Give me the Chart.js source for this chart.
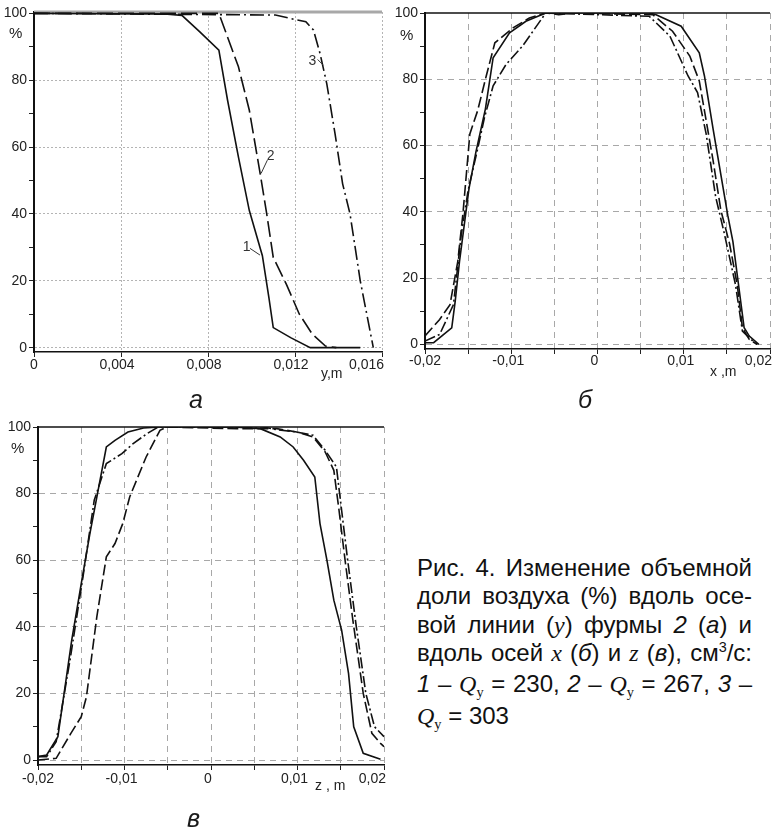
<!DOCTYPE html>
<html lang="ru">
<head>
<meta charset="utf-8">
<title>Рис. 4</title>
<script src="https://cdn.jsdelivr.net/npm/chart.js@4.4.0/dist/chart.umd.min.js"></script>
<style>
html, body { margin: 0; padding: 0; background: #fff; overflow: hidden; }
#page { position: relative; width: 773px; height: 830px; overflow: hidden; font-family: "Liberation Sans", Arial, sans-serif; color: #1a1a1a; }
canvas { position: absolute; }
.lbl { position: absolute; font-size: 14px; line-height: 16px; white-space: nowrap; color: #222; }
.pct { font-size: 15px; }
.panel { position: absolute; font-size: 25px; font-style: italic; line-height: 29px; }
#caption { position: absolute; left: 417px; top: 554px; width: 335px; font-size: 24px; line-height: 28.35px; color: #111; }
#caption div { text-align: justify; text-align-last: justify; }
#caption div.last { text-align-last: left; }
.m { font-family: "Liberation Serif", "DejaVu Serif", serif; font-style: italic; }
.sub { font-family: "Liberation Serif", "DejaVu Serif", serif; font-size: 0.6em; position: relative; top: 0.35em; }
.sup { font-size: 0.6em; position: relative; top: -0.6em; }
</style>
</head>
<body>
<div id="page">
  <canvas id="chartA" width="402" height="390" style="left:0;top:0"></canvas>
  <canvas id="chartB" width="400" height="390" style="left:388px;top:0"></canvas>
  <canvas id="chartC" width="402" height="390" style="left:0;top:400px"></canvas>

  <div class="lbl pct" style="left:9px;top:25px">%</div>
  <div class="lbl pct" style="left:400px;top:27px">%</div>
  <div class="lbl pct" style="left:11px;top:440px">%</div>

  <div class="lbl" style="left:321px;top:365px">y,m</div>
  <div class="lbl" style="left:710px;top:363px">x ,m</div>
  <div class="lbl" style="left:315px;top:777px">z , m</div>

  <div class="panel" style="left:189px;top:385px">а</div>
  <div class="panel" style="left:578px;top:385px">б</div>
  <div class="panel" style="left:187px;top:804px">в</div>

  <div id="caption">
    <div>Рис. 4. Изменение объемной</div>
    <div>доли воздуха (%) вдоль осе-</div>
    <div>вой линии (<span class="m">y</span>) фурмы <i>2</i> (<i>а</i>) и</div>
    <div>вдоль осей <span class="m">x</span> (<i>б</i>) и <span class="m">z</span> (<i>в</i>), см<span class="sup">3</span>/с:</div>
    <div><i>1</i> – <span class="m">Q</span><span class="sub">у</span> = 230, <i>2</i> – <span class="m">Q</span><span class="sub">у</span> = 267, <i>3</i> –</div>
    <div class="last"><span class="m">Q</span><span class="sub">у</span> = 303</div>
  </div>
</div>

<script>
// axis ticks
const yTicks = [0, 10, 20, 30, 40, 50, 60, 70, 80, 90, 100]
const yTickLabels = ["0", "", "20", "", "40", "", "60", "", "80", "", "100"]
const aXTicks = [0, 0.004, 0.008, 0.012, 0.016]
const aXLabels = ["0", "0,004", "0,008", "0,012", "0,016"]
const bXTicks = [-0.02, -0.015, -0.01, -0.005, 0, 0.005, 0.01, 0.015, 0.02]
const bXLabels = ["-0,02", "", "-0,01", "", "0", "", "0,01", "", "0,02"]

// panel a: along the axial line y, m
const a1X = [0, 0.006, 0.0068, 0.0076, 0.0085, 0.0089, 0.0094, 0.0099, 0.0105, 0.0108, 0.011, 0.0118, 0.0127, 0.015]
const a1Y = [100, 99.8, 99.4, 94.6, 89, 74, 57, 41, 27.5, 15, 6, 3, 0, 0]
const a2X = [0, 0.0085, 0.0094, 0.0099, 0.0104, 0.0107, 0.011, 0.0116, 0.0122, 0.0128, 0.0134, 0.0139]
const a2Y = [100, 100, 84, 71, 52, 40, 27, 19, 10, 4, 0.5, 0]
const a3X = [0, 0.0111, 0.0121, 0.0125, 0.01285, 0.01315, 0.01346, 0.01384, 0.01419, 0.01453, 0.015, 0.0156]
const a3Y = [100, 99.5, 98, 97.5, 95, 88, 79, 64, 49, 40, 20, 0]

// panel б: along x, m
const b1X = [-0.02, -0.019, -0.0169, -0.0165, -0.016, -0.0149, -0.0141, -0.013, -0.0121, -0.0102, -0.0083, -0.006, 0.006, 0.0068, 0.0097, 0.0118, 0.0124, 0.0134, 0.0151, 0.0157, 0.017, 0.0176, 0.0187]
const b1Y = [0.5, 0.5, 5, 13, 25, 47, 58, 71, 86.5, 94, 97.5, 100, 100, 99.5, 96, 88, 81, 65, 39, 31, 5, 2.5, 0]
const b2X = [-0.02, -0.0183, -0.0171, -0.0162, -0.0156, -0.0148, -0.0139, -0.0129, -0.0119, -0.0098, -0.0079, -0.006, -0.0045, -0.003, 0.0064, 0.0087, 0.0107, 0.0118, 0.0126, 0.0134, 0.0143, 0.0153, 0.0162, 0.0168, 0.0176, 0.0185]
const b2Y = [2.5, 7.5, 12, 25, 39.5, 63.5, 70.5, 81, 91, 95.5, 98.5, 100, 99.5, 100, 99.5, 94.5, 87, 79.5, 67.5, 55.5, 40.5, 30.5, 18, 5, 1.5, 0]
const b3X = [-0.02, -0.0183, -0.0167, -0.0158, -0.015, -0.01385, -0.0131, -0.0121, -0.0106, -0.0087, -0.006, 0.006, 0.0084, 0.0105, 0.0116, 0.0126, 0.0137, 0.0147, 0.016, 0.0168, 0.018, 0.0185]
const b3Y = [1, 3, 12, 33, 46.5, 59.5, 68.5, 78, 84.5, 90, 100, 99, 93, 81, 76, 63.5, 44.5, 33.5, 18, 4, 1, 0]

// panel в: along z, m
const c1X = [-0.02, -0.019, -0.0177, -0.0161, -0.015, -0.014, -0.0121, -0.0111, -0.0096, -0.0078, -0.0059, 0.0026, 0.0057, 0.008, 0.0095, 0.0107, 0.012, 0.0126, 0.0134, 0.0142, 0.0151, 0.0159, 0.0165, 0.0176, 0.0196]
const c1Y = [1, 1.5, 7, 36, 53, 68, 94, 96, 98.5, 99.7, 100, 100, 99.5, 97, 94, 90, 85, 71, 60, 48, 39, 26, 10, 2, 0.2]
const c2X = [-0.02, -0.0179, -0.0162, -0.015, -0.0144, -0.0132, -0.0121, -0.0111, -0.0102, -0.0094, -0.0075, -0.0059, -0.0051, 0.003, 0.0076, 0.0099, 0.0118, 0.0132, 0.0142, 0.0148, 0.0155, 0.0164, 0.0176, 0.0186, 0.0196, 0.02]
const c2Y = [0, 0.5, 8, 13, 19, 43, 61, 65, 71, 79, 91, 99, 100, 99.5, 99.5, 98.5, 97, 92.5, 87, 75, 60, 42, 20, 8, 5, 4]
const c3X = [-0.02, -0.019, -0.0179, -0.0163, -0.0148, -0.0135, -0.0121, -0.0103, -0.009, -0.0074, -0.0061, 0.006, 0.0076, 0.0099, 0.0118, 0.0132, 0.0145, 0.0151, 0.0158, 0.0168, 0.0179, 0.0189, 0.02]
const c3Y = [1, 1, 5.5, 30, 55, 78, 89, 92, 95, 98, 100, 100, 99.2, 98.5, 97.5, 93, 88, 75, 60, 40, 20, 10, 7]

// curve numbers on panel a (data coordinates)
const aNotes = [
    { text: "1", x: 0.00978, y: 30.2, from: [0.00993, 29.7], to: [0.01039, 27.7] },
    { text: "2", x: 0.01088, y: 57.4, from: [0.01073, 56.1], to: [0.01044, 52.1] },
    { text: "3", x: 0.0128, y: 85.7, from: [0.01304, 86.2], to: [0.0133, 84.5] },
]

const tickFont = { family: "'Liberation Sans', Arial, sans-serif", size: 14 }

function points(xs, ys) {
    return xs.map((x, i) => ({ x: x, y: ys[i] }))
}

// x labels drawn under the axis, last one kept inside the frame
const xLabelPlugin = {
    id: "xLabels",
    afterDraw(chart, args, opts) {
        const scale = chart.scales.x
        const ctx = chart.ctx
        ctx.save()
        ctx.font = "14px 'Liberation Sans', Arial, sans-serif"
        ctx.fillStyle = "#222"
        ctx.textBaseline = "alphabetic"
        const n = scale.ticks.length
        scale.ticks.forEach((t, i) => {
            const text = opts.labels[i]
            if (!text) return
            const px = scale.getPixelForValue(t.value)
            if (i === n - 1) {
                ctx.textAlign = "right"
                ctx.fillText(text, px + 2, scale.top + opts.baseline)
            } else {
                ctx.textAlign = "center"
                ctx.fillText(text, px + (i === 0 ? 0 : opts.shift), scale.top + opts.baseline)
            }
        })
        ctx.restore()
    },
}

// top edge of the frame
const frameTopPlugin = {
    id: "frameTop",
    beforeDatasetsDraw(chart, args, opts) {
        const { ctx, chartArea } = chart
        ctx.save()
        ctx.strokeStyle = opts.color
        ctx.lineWidth = opts.width
        ctx.beginPath()
        ctx.moveTo(chartArea.left, chartArea.top)
        ctx.lineTo(chartArea.right, chartArea.top)
        ctx.stroke()
        ctx.restore()
    },
}

// numbered leaders
const notesPlugin = {
    id: "notes",
    afterDatasetsDraw(chart, args, opts) {
        const notes = opts.items || []
        if (!notes.length) return
        const { ctx, scales } = chart
        ctx.save()
        ctx.font = "14px 'Liberation Sans', Arial, sans-serif"
        ctx.fillStyle = "#333"
        ctx.strokeStyle = "#333"
        ctx.lineWidth = 1
        ctx.textAlign = "center"
        ctx.textBaseline = "middle"
        notes.forEach((n) => {
            ctx.fillText(n.text, scales.x.getPixelForValue(n.x), scales.y.getPixelForValue(n.y))
            ctx.beginPath()
            ctx.moveTo(scales.x.getPixelForValue(n.from[0]), scales.y.getPixelForValue(n.from[1]))
            ctx.lineTo(scales.x.getPixelForValue(n.to[0]), scales.y.getPixelForValue(n.to[1]))
            ctx.stroke()
        })
        ctx.restore()
    },
}

function buildPanel(id, p) {
    return new Chart(document.getElementById(id), {
        type: "line",
        data: {
            datasets: p.series.map((s, i) => ({
                data: points(s[0], s[1]),
                borderColor: "#111",
                borderWidth: 1.6,
                borderDash: p.dashes[i],
                pointRadius: 0,
                tension: 0,
                fill: false,
            })),
        },
        options: {
            responsive: false,
            animation: false,
            events: [],
            layout: { padding: { left: 0, top: p.padTop, right: p.padRight, bottom: 0 } },
            plugins: {
                legend: { display: false },
                tooltip: { enabled: false },
                xLabels: { labels: p.xLabels, shift: p.shift, baseline: p.labelBaseline },
                frameTop: { color: p.topColor, width: p.topWidth },
                notes: { items: p.notes },
            },
            scales: {
                x: {
                    type: "linear",
                    min: p.xTicks[0],
                    max: p.xTicks[p.xTicks.length - 1],
                    afterBuildTicks: (sc) => { sc.ticks = p.xTicks.map((v) => ({ value: v })) },
                    afterFit: (sc) => { sc.height = p.xHeight },
                    ticks: { display: false },
                    grid: {
                        color: (c) => (c.index === 0 ? "transparent" : p.gridColor),
                        lineWidth: 1,
                        tickLength: 5,
                        tickColor: "#222",
                    },
                    border: { color: "#111", width: 1.5, dash: p.gridDash },
                },
                y: {
                    type: "linear",
                    min: p.yMin,
                    max: p.yMax,
                    afterBuildTicks: (sc) => { sc.ticks = yTicks.map((v) => ({ value: v })) },
                    afterFit: (sc) => { sc.width = p.yWidth },
                    ticks: {
                        autoSkip: false,
                        padding: 2,
                        color: "#222",
                        font: tickFont,
                        callback: (v, i) => yTickLabels[i],
                    },
                    grid: {
                        color: (c) => (yTickLabels[c.index] && c.tick.value < 100 ? p.gridColor : "transparent"),
                        lineWidth: 1,
                        tickLength: 5,
                        tickColor: "#222",
                    },
                    border: { color: "#111", width: 2, dash: p.gridDash },
                },
            },
        },
        plugins: [xLabelPlugin, frameTopPlugin, notesPlugin],
    })
}

buildPanel("chartA", {
    series: [[a1X, a1Y], [a2X, a2Y], [a3X, a3Y]],
    dashes: [[], [16, 5], [14, 4, 2, 4]],
    xTicks: aXTicks, xLabels: aXLabels, shift: -4, labelBaseline: 16.5,
    yMin: -1.3, yMax: 100.4, yWidth: 34, xHeight: 38, padTop: 12, padRight: 20,
    gridColor: "#b4b4b4", gridDash: [2, 2],
    topColor: "#a8a8a8", topWidth: 3,
    notes: aNotes,
})

buildPanel("chartB", {
    series: [[b1X, b1Y], [b2X, b2Y], [b3X, b3Y]],
    dashes: [[], [11, 4], [11, 3, 2, 3]],
    xTicks: bXTicks, xLabels: bXLabels, shift: -3, labelBaseline: 16,
    yMin: -1.4, yMax: 100, yWidth: 37, xHeight: 41, padTop: 13, padRight: 18,
    gridColor: "#a8a8a8", gridDash: [6, 5],
    topColor: "#111", topWidth: 1.4,
    notes: [],
})

buildPanel("chartC", {
    series: [[c1X, c1Y], [c2X, c2Y], [c3X, c3Y]],
    dashes: [[], [11, 4], [11, 3, 2, 3]],
    xTicks: bXTicks, xLabels: bXLabels, shift: -3, labelBaseline: 18,
    yMin: -1.5, yMax: 100, yWidth: 38, xHeight: 25, padTop: 27, padRight: 18,
    gridColor: "#a8a8a8", gridDash: [6, 5],
    topColor: "#111", topWidth: 1.4,
    notes: [],
})
</script>
</body>
</html>
